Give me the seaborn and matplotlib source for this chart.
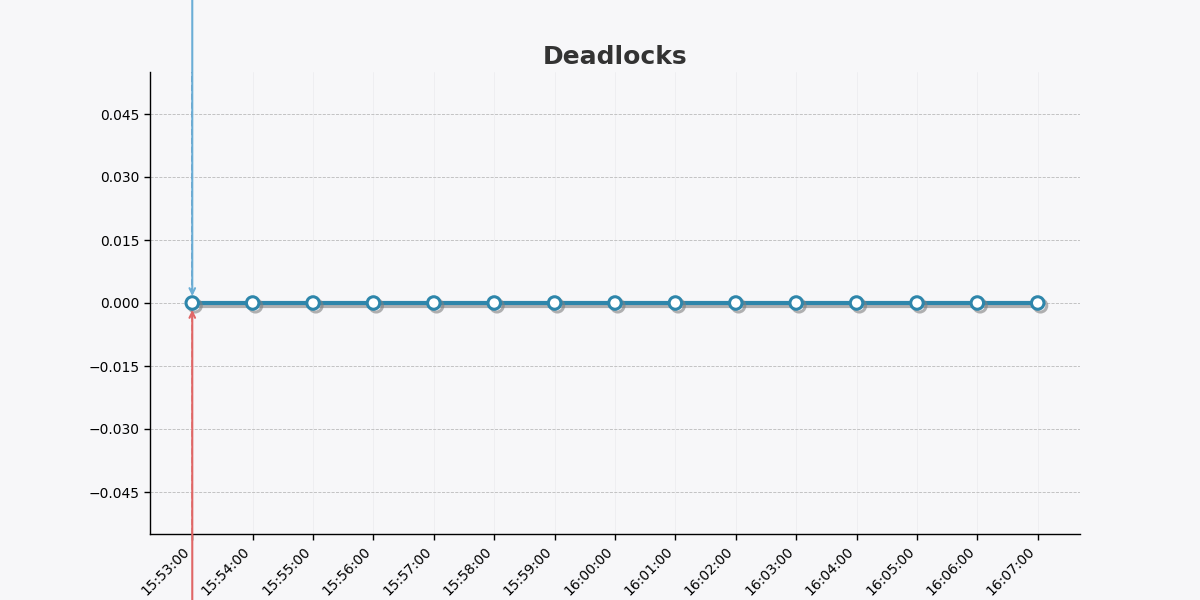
#!/usr/bin/env python3
import matplotlib
matplotlib.use("Agg")
import matplotlib.dates as mdates
import matplotlib.patheffects as pe
import matplotlib.pyplot as plt
import matplotlib.ticker as mticker
import pandas as pd
import seaborn as sns

TIMES = [
    "15:53:00", "15:54:00", "15:55:00", "15:56:00", "15:57:00",
    "15:58:00", "15:59:00", "16:00:00", "16:01:00", "16:02:00",
    "16:03:00", "16:04:00", "16:05:00", "16:06:00", "16:07:00",
]
DEADLOCKS = [0, 0, 0, 0, 0, 0, 0, 0, 0, 0, 0, 0, 0, 0, 0]
Y_TICKS = [-0.045, -0.030, -0.015, 0.0, 0.015, 0.030, 0.045]

LINE_COLOR = "#2E86AB"
BG_COLOR = "#F7F7F9"


def _fmt_y(v, _pos):
    return f"{v:.3f}".replace("-", "\u2212")


def main() -> None:
    sns.set_style("white")
    plt.rcParams.update({"font.family": ["DejaVu Sans"]})

    df = pd.DataFrame(
        {
            "time": pd.to_datetime(["2024-01-01 " + t for t in TIMES]),
            "value": DEADLOCKS,
        }
    )

    fig, ax = plt.subplots(figsize=(12, 6), dpi=100)
    fig.patch.set_facecolor(BG_COLOR)
    ax.set_facecolor(BG_COLOR)

    sns.lineplot(
        data=df, x="time", y="value", ax=ax,
        color=LINE_COLOR, linewidth=3, marker="o", markersize=9,
        markerfacecolor="white", markeredgecolor=LINE_COLOR, markeredgewidth=2.2,
        path_effects=[
            pe.SimpleLineShadow(offset=(2, -2), shadow_color="gray", alpha=0.6),
            pe.Normal(),
        ],
        zorder=3,
    )

    ax.set_ylim(-0.055, 0.055)
    ax.set_yticks(Y_TICKS)
    ax.yaxis.set_major_formatter(mticker.FuncFormatter(_fmt_y))
    ax.xaxis.set_major_locator(mdates.MinuteLocator(interval=1))
    ax.xaxis.set_major_formatter(mdates.DateFormatter("%H:%M:%S"))
    plt.setp(ax.get_xticklabels(), rotation=45, ha="right")
    ax.tick_params(axis="both", which="major", length=4, width=1, labelsize=10,
                   bottom=True, left=True, color="black", labelcolor="black")

    ax.grid(axis="y", linestyle="--", linewidth=0.6, color="#BBBBBB")
    ax.grid(axis="x", linestyle="-", linewidth=0.6, color="#E8E8EC", alpha=0.7)
    for side in ("top", "right"):
        ax.spines[side].set_visible(False)
    for side in ("left", "bottom"):
        ax.spines[side].set_color("black")
        ax.spines[side].set_linewidth(1)

    ax.set_xlabel("")
    ax.set_ylabel("")
    ax.set_title("Deadlocks", fontsize=18, fontweight="bold", color="#333333", pad=6)

    # peak / low pointers on the max and min timestamps
    t_peak = df["time"].iloc[df["value"].idxmax()]
    t_low = df["time"].iloc[df["value"].idxmin()]
    v_peak = df["value"].max()
    v_low = df["value"].min()

    ax.annotate(
        "", xy=(t_peak, v_peak), xycoords="data",
        xytext=(t_peak, 1.4), textcoords=("data", "axes fraction"),
        annotation_clip=False,
        arrowprops=dict(arrowstyle="->", color="#6BAED6", lw=1.5, shrinkA=0, shrinkB=5),
    )
    ax.annotate(
        "", xy=(t_low, v_low), xycoords="data",
        xytext=(t_low, -0.4), textcoords=("data", "axes fraction"),
        annotation_clip=False,
        arrowprops=dict(arrowstyle="->", color="#E06666", lw=1.5, shrinkA=0, shrinkB=5),
    )
    ax.vlines(t_peak, v_peak, 0.055, colors="#3F6E9A", linestyles="--",
              linewidth=1.2, alpha=0.8, zorder=2.5)
    ax.vlines(t_low, -0.055, v_low, colors="#C0392B", linestyles="--",
              linewidth=1.2, alpha=0.5, zorder=2.5)

    fig.savefig("out.png", dpi=100, facecolor=BG_COLOR)
    plt.close(fig)


if __name__ == "__main__":
    main()
